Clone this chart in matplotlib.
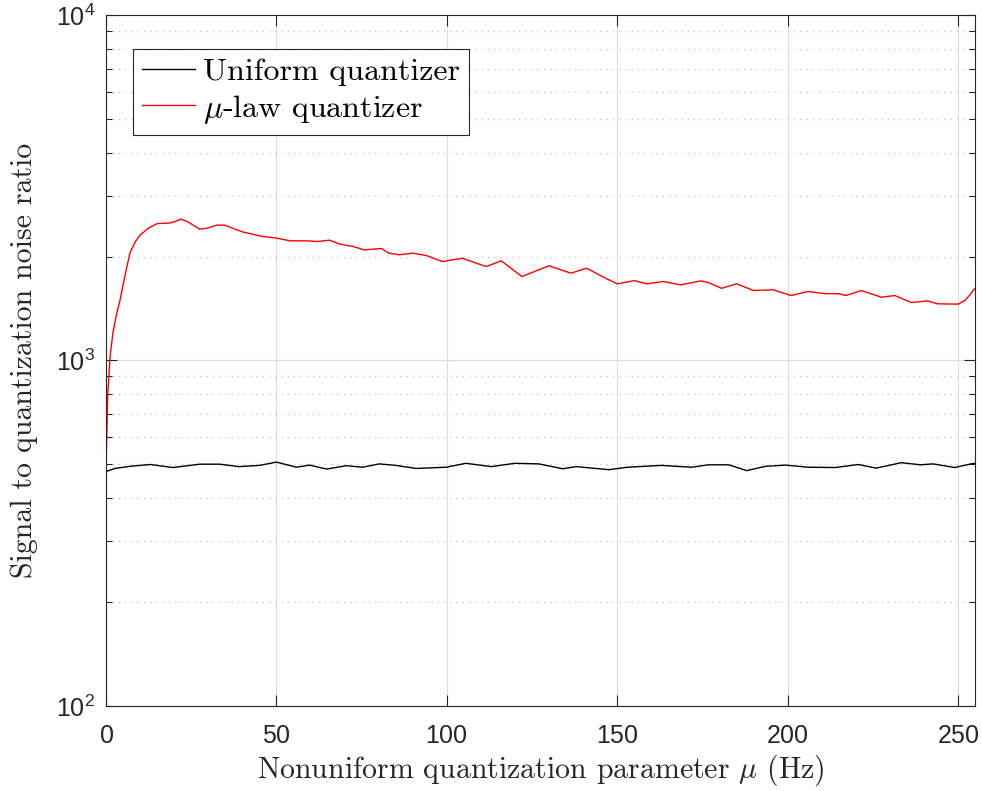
import matplotlib
matplotlib.use('Agg')
import matplotlib.pyplot as plt
from matplotlib.ticker import FixedLocator, FixedFormatter, LogLocator, NullFormatter

# mu values and SQNR
mu_uni = [0, 2.6, 7, 13, 19.6, 27.5, 33.4, 39, 45, 50, 55.9, 59.7, 64.7, 70.5, 75.3,
          80.2, 85, 91, 99.8, 105.6, 113, 120, 127, 134, 138, 147.5, 153, 163, 171.8,
          176.8, 182.7, 188, 193.5, 199.4, 206, 214, 220.7, 226, 233.3, 239, 242.7,
          249, 253.8, 255]
sqnr_uni = [477, 487, 494, 500, 490, 501, 501, 493, 497, 508, 491, 498, 485, 496, 491,
            502, 497, 487, 491, 504, 493, 504, 502, 486, 493, 483, 491, 497, 491,
            499, 499, 480, 494, 498, 491, 490, 500, 488, 506, 499, 502,
            490, 502, 504]

mu_law = [0, 0.5, 1.2, 2, 3, 4.1, 5.5, 7, 8.5, 10, 12.5, 15, 18.7, 20.5, 22, 24, 27.5,
          30, 32.5, 34.8, 40, 46, 50, 54, 59, 62, 65.6, 68.5, 72.3, 75.8, 80.8, 83,
          86, 90, 94, 98.7, 104.5, 111.5, 116, 122, 130, 136.4, 141, 146.6, 150, 155,
          158.7, 163.6, 168.6, 174.5, 176.8, 180.6, 185, 190, 195.8, 201, 206, 211,
          215, 217, 221.6, 227.5, 231.5, 236.3, 241, 244, 250, 252, 253.5, 255]
sqnr_law = [490, 800, 1030, 1200, 1350, 1496, 1750, 2047, 2200, 2307, 2420, 2490, 2500,
            2530, 2565, 2520, 2399, 2420, 2465, 2465, 2356, 2285, 2261, 2220, 2220, 2210,
            2230, 2173, 2140, 2090, 2110, 2045, 2023, 2045, 2013, 1934, 1977, 1871, 1943,
            1750, 1880, 1789, 1850, 1730, 1667, 1703, 1667, 1693, 1655, 1700, 1681, 1618,
            1667, 1594, 1602, 1542, 1584, 1561, 1561, 1542, 1594, 1525, 1542, 1471, 1488,
            1459, 1456, 1492, 1550, 1620]

xticks = [0, 50, 100, 150, 200, 250]
yticks = [1e2, 1e3, 1e4]
ytick_labels = [r'$\mathregular{10^{2}}$', r'$\mathregular{10^{3}}$', r'$\mathregular{10^{4}}$']

plt.rcParams['mathtext.fontset'] = 'cm'
plt.rcParams['axes.formatter.use_mathtext'] = True
serif = ['cmr10', 'DejaVu Serif']
sans = ['Liberation Sans', 'DejaVu Sans']

fig = plt.figure(figsize=(9.82, 7.91), dpi=100)
ax = fig.add_axes([0.108, 0.1075, 0.885, 0.8735])

ax.plot(mu_uni, sqnr_uni, color='black', lw=1.0, label='Uniform quantizer')
ax.plot(mu_law, sqnr_law, color='red', lw=1.0, label=r'$\mu$-law quantizer')

ax.set_yscale('log')
ax.set_xlim(0, 255)
ax.set_ylim(1e2, 1e4)

ax.xaxis.set_major_locator(FixedLocator(xticks))
ax.yaxis.set_major_locator(FixedLocator(yticks))
ax.yaxis.set_major_formatter(FixedFormatter(ytick_labels))
ax.yaxis.set_minor_locator(LogLocator(base=10, subs=range(2, 10)))
ax.yaxis.set_minor_formatter(NullFormatter())

ax.tick_params(which='both', direction='in', top=True, right=True, color='#262626')
ax.tick_params(which='major', length=8, labelsize=18, colors='#262626', width=0.8)
ax.tick_params(axis='x', which='major', pad=13)
ax.tick_params(axis='y', which='major', pad=8)
ax.tick_params(which='minor', length=4, width=0.8)
for lab in ax.get_xticklabels() + ax.get_yticklabels():
    lab.set_fontfamily(sans)

ax.grid(True, which='major', color='#dcdcdc', lw=0.8, ls='-')
ax.grid(True, which='minor', axis='y', color='#c0c0c0', lw=0.9, ls=(0, (1, 4)))
ax.set_axisbelow(True)
for s in ax.spines.values():
    s.set_color('#262626')
    s.set_linewidth(0.8)

ax.set_xlabel(r'Nonuniform quantization parameter $\mu$ (Hz)', fontsize=21.5,
              family=serif, color='#262626', labelpad=3)
ax.set_ylabel('Signal to quantization noise ratio', fontsize=21.5,
              family=serif, color='#262626', labelpad=13)

leg = ax.legend(loc='upper left', bbox_to_anchor=(0.031, 0.951),
                prop={'family': serif, 'size': 23}, fancybox=False, framealpha=1,
                edgecolor='#262626', handlelength=1.65, borderpad=0.28,
                labelspacing=0.2, handletextpad=0.25, borderaxespad=0)
leg.get_frame().set_linewidth(0.8)

fig.savefig('out.png', dpi=100)
